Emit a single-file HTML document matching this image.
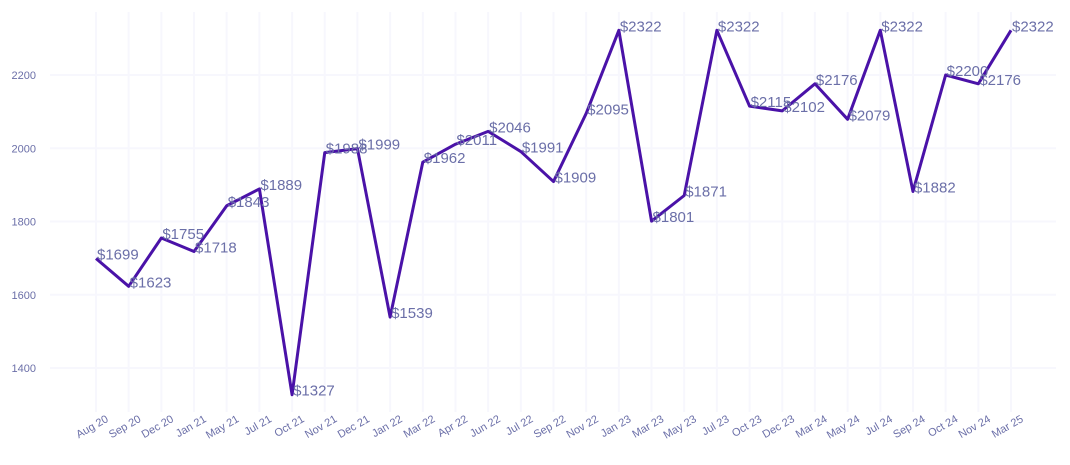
<!DOCTYPE html>
<html><head><meta charset="utf-8"><style>
html,body{margin:0;padding:0;background:#fff;}
svg{display:block;font-family:"Liberation Sans",Arial,sans-serif;}
</style></head><body>
<svg id="chart" width="1070" height="465" viewBox="0 0 1070 465">
<g id="grid"></g>
<g id="yaxis"></g>
<g id="xaxis"></g>
<g id="series"></g>
</svg>
<script>
const categories=["Aug 20","Sep 20","Dec 20","Jan 21","May 21","Jul 21","Oct 21","Nov 21","Dec 21","Jan 22","Mar 22","Apr 22","Jun 22","Jul 22","Sep 22","Nov 22","Jan 23","Mar 23","May 23","Jul 23","Oct 23","Dec 23","Mar 24","May 24","Jul 24","Sep 24","Oct 24","Nov 24","Mar 25"];
const values=[1699,1623,1755,1718,1843,1889,1327,1988,1999,1539,1962,2011,2046,1991,1909,2095,2322,1801,1871,2322,2115,2102,2176,2079,2322,1882,2200,2176,2322];
const yTicks=[1400,1600,1800,2000,2200];
const NS="http://www.w3.org/2000/svg";
const x0=96,x1=1011;
function xs(i){return x0+(x1-x0)*i/(categories.length-1);}
function ys(v){return 368-(v-1400)*(293/800);}
function mk(t,a,p){const e=document.createElementNS(NS,t);for(const k in a)e.setAttribute(k,a[k]);p.appendChild(e);return e;}
const grid=document.getElementById('grid'),ya=document.getElementById('yaxis'),xa=document.getElementById('xaxis'),se=document.getElementById('series');
yTicks.forEach(v=>{
 const l=mk('line',{x1:50,x2:1056,y1:ys(v),y2:ys(v),stroke:'#f7f7fd','stroke-width':2},grid);
 
 
 const t=mk('text',{x:36,y:ys(v)+4,'text-anchor':'end','font-size':11,fill:'#6b6fa8'},ya);
 t.textContent=v;
 
 
});
categories.forEach((c,i)=>{
 const x=xs(i);
 const l=mk('line',{x1:x,x2:x,y1:12,y2:412,stroke:'#f7f7fd','stroke-width':2},grid);
 
 
 const t=mk('text',{x:x+13,y:421,'text-anchor':'end','font-size':11,fill:'#6b6fa8',transform:`rotate(-30 ${x+13} 421)`},xa);
 t.textContent=c;
 
 
});
const path=mk('polyline',{points:values.map((v,i)=>xs(i)+','+ys(v)).join(' '),fill:'none',stroke:'#4a12a8','stroke-width':3,'stroke-linejoin':'round'},se);


values.forEach((v,i)=>{
 const t=mk('text',{x:xs(i)+1,y:ys(v)+1,'font-size':15,fill:'#6b6fa8'},se);
 t.textContent='$'+v;
 
 
});
</script>
</body></html>
